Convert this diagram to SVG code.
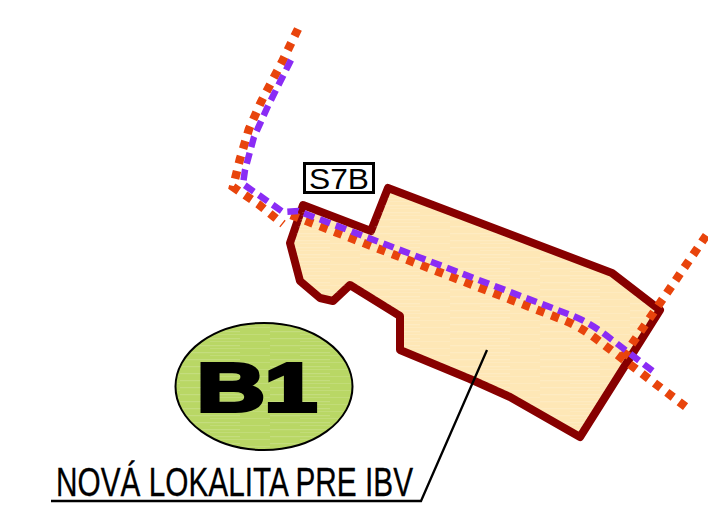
<svg xmlns="http://www.w3.org/2000/svg" width="708" height="508" viewBox="0 0 708 508">
<defs>
<pattern id="streak" width="90" height="7" patternUnits="userSpaceOnUse">
<rect y="2" width="60" height="1.200" fill="#fff" fill-opacity=".16"/>
<rect x="30" y="5" width="60" height="1" fill="#fff" fill-opacity=".12"/>
</pattern>
</defs>
<style>
.orange{fill:none;stroke:#e8440c;stroke-width:8.500;stroke-dasharray:8 7.500}
.purple{fill:none;stroke:#8a2cf5;stroke-width:6.500;stroke-dasharray:11 6}
.lbl{font-family:"Liberation Sans",Arial,sans-serif;fill:#000}
.leader{fill:none;stroke:#000;stroke-width:2.300}
</style>
<rect width="708" height="508" fill="#fff"/>
<g id="plot">
<path id="plotshape" d="M303 205L371 231L388 188L612 273L660 310L580 437L510 397L470 379L400 350L400 316L350 285L333 301L320 298L300 281L290 243Z" fill="#fee7b6" stroke="#870000" stroke-width="8" stroke-linejoin="round"/>
<path d="M303 209L371 235L390 193L610 277L655 311L579 431L510 393L470 375L404 347L404 314L350 281L333 297L322 294L304 279L294 243Z" fill="url(#streak)"/>
</g>
<g id="connectors">
<path class="orange" d="M298 29L282 62L261 102L249 129L240 159L233 187L258 204L283 224"/>
<path class="orange" d="M291 215L561 319Q580 326 599 341L690 410"/>
<path class="orange" d="M623 357L708 233"/>
<path class="purple" d="M291 60L268 106L254 137L245 170L243 184L283 212L298 211L568 314Q590 322 611 339L654 372"/>
<path class="leader" d="M487 350L421 501L51 501"/>
</g>
<g id="s7b">
<rect x="304.500" y="163.500" width="69" height="29" fill="#fff" stroke="#000" stroke-width="3"/>
<text class="lbl" x="309" y="188.500" font-size="30" textLength="60" lengthAdjust="spacingAndGlyphs">S7B</text>
</g>
<g id="b1">
<ellipse cx="264" cy="386.500" rx="88.500" ry="63.500" fill="#b9d765" stroke="#000" stroke-width="2"/>
<ellipse cx="264" cy="386.500" rx="87" ry="62" fill="url(#streak)"/>
<text class="lbl" x="0" y="0" font-size="68" font-weight="bold" stroke="#000" stroke-width="4" transform="translate(197 411) scale(1.38 1)">B1</text>
</g>
<g id="label">
<text class="lbl" x="56" y="496" font-size="40" stroke="#000" stroke-width=".3" textLength="357" lengthAdjust="spacingAndGlyphs">NOVÁ LOKALITA PRE IBV</text>
</g>
</svg>
